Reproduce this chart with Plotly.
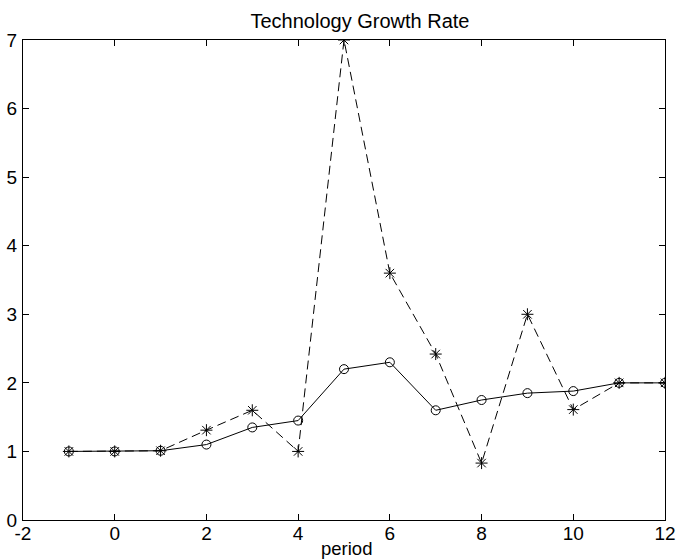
import plotly.graph_objects as go

periods = [-1, 0, 1, 2, 3, 4, 5, 6, 7, 8, 9, 10, 11, 12]
solid_circle = [1.0, 1.0, 1.01, 1.10, 1.35, 1.45, 2.20, 2.30, 1.60, 1.75, 1.85, 1.88, 2.0, 2.0]
dashed_star = [1.0, 1.0, 1.01, 1.31, 1.60, 1.0, 7.0, 3.60, 2.42, 0.83, 3.0, 1.61, 2.0, 2.0]

x_tick_vals = [-2, 0, 2, 4, 6, 8, 10, 12]
x_tick_text = ["-2", "0", "2", "4", "6", "8", "10", "12"]
y_tick_vals = [0, 1, 2, 3, 4, 5, 6, 7]

FONT = "Liberation Sans, Arial, Helvetica, sans-serif"

fig = go.Figure()
fig.add_trace(go.Scatter(
    x=periods, y=dashed_star, mode="lines+markers",
    line=dict(color="black", width=1, dash="9px,5px"),
    marker=dict(symbol="asterisk-open", size=10, color="black",
                line=dict(color="black", width=1)),
    showlegend=False,
))
fig.add_trace(go.Scatter(
    x=periods, y=solid_circle, mode="lines+markers",
    line=dict(color="black", width=1),
    marker=dict(symbol="circle-open", size=9, color="black",
                line=dict(color="black", width=1)),
    showlegend=False,
))

H = 559
top, bottom = 40, 520

fig.update_layout(
    width=676, height=559,
    margin=dict(l=23, r=11, t=top, b=H - bottom),
    paper_bgcolor="white", plot_bgcolor="white",
    font=dict(family=FONT, size=19, color="black"),
    title=dict(text="Technology Growth Rate", x=360 / 676, xref="container",
               xanchor="center", y=1 - 21 / H, yref="container", yanchor="middle",
               font=dict(family=FONT, size=20, color="black")),
    xaxis=dict(range=[-2, 12], tickmode="array", tickvals=x_tick_vals, ticktext=x_tick_text,
               ticks="inside", ticklen=6, tickwidth=1, tickcolor="black",
               showline=True, linecolor="black", linewidth=1, mirror="allticks",
               showgrid=False, zeroline=False, ticklabelstandoff=-4, automargin=False),
    yaxis=dict(range=[0, 7], tickmode="array", tickvals=y_tick_vals,
               ticks="inside", ticklen=6, tickwidth=1, tickcolor="black",
               showline=True, linecolor="black", linewidth=1, mirror="allticks",
               showgrid=False, zeroline=False, ticklabelstandoff=1, automargin=False),
    annotations=[dict(text="period", xref="paper", x=(346 - 23) / (665 - 23),
                      yref="paper", y=(bottom - 548) / (bottom - top),
                      xanchor="center", yanchor="middle", showarrow=False,
                      font=dict(family=FONT, size=18.5, color="black"))],
)

fig.write_html("out.html")
